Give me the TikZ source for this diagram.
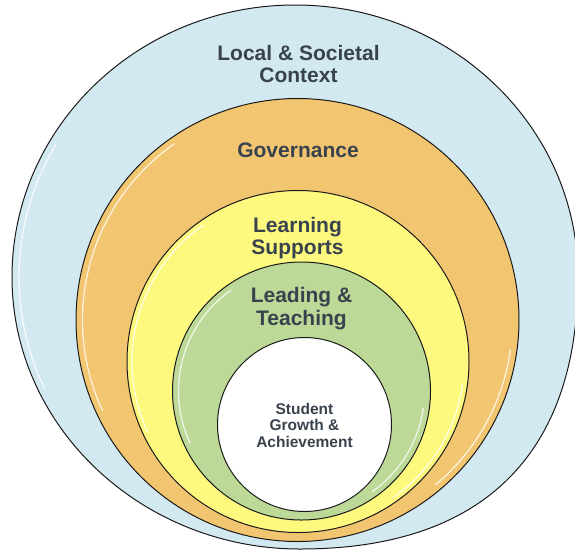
\documentclass[tikz,border=0pt]{standalone}
\usepackage{fontspec}
\setmainfont{Liberation Sans}
\definecolor{ringblue}{HTML}{D3E9F1}
\definecolor{ringorange}{HTML}{F2C570}
\definecolor{ringyellow}{HTML}{FDF97F}
\definecolor{ringgreen}{HTML}{BDD997}
\definecolor{labeltext}{HTML}{39434E}
\definecolor{edge}{HTML}{1A1A1A}
\tikzset{
  ring/.style={circle, draw=edge, line width=1pt, inner sep=0pt, outer sep=0pt},
  lbl/.style={font=\fontsize{21}{22.5}\selectfont\bfseries, text=labeltext, align=center, inner sep=0pt},
  smalllbl/.style={font=\fontsize{15.5}{16.5}\selectfont\bfseries, text=labeltext, align=center, inner sep=0pt},
  hl/.style={white, line width=1.3pt, opacity=0.75, line cap=round}
}
\begin{document}
\begin{tikzpicture}[x=1pt, y=-1pt]
\useasboundingbox (0,0) rectangle (575,552);
% outer context shape
\coordinate (ctx) at (295,277);
\draw[fill=ringblue, draw=edge, line width=1pt]
  (12,277) arc[start angle=180, end angle=0, x radius=283pt, y radius=272pt]
  .. controls (578,447) and (490,549) .. (300,549)
  .. controls (142,549) and (12,427) .. (12,277) -- cycle;
\draw[hl] ([shift={(150:276pt and 265pt)}]ctx) arc[start angle=150, end angle=205, x radius=276pt, y radius=265pt];
% rings
\node[ring, fill=ringorange, minimum size=443pt] (gov) at (297.5,320) {};
\node[ring, fill=ringyellow, minimum size=342pt] (sup) at (298,361.5) {};
\node[ring, fill=ringgreen, minimum size=258pt] (lead) at (301.5,391) {};
\node[ring, fill=white, minimum size=174pt] (stud) at (304.5,424.5) {};
% highlights
\draw[hl] ([shift={(125:215pt)}]gov.center) arc[start angle=125, end angle=205, radius=215pt];
\draw[hl] ([shift={(-8:215pt)}]gov.center) arc[start angle=-8, end angle=-50, radius=215pt];
\draw[hl] ([shift={(125:166pt)}]sup.center) arc[start angle=125, end angle=205, radius=166pt];
\draw[hl] ([shift={(-8:166pt)}]sup.center) arc[start angle=-8, end angle=-55, radius=166pt];
\draw[hl] ([shift={(125:123pt)}]lead.center) arc[start angle=125, end angle=205, radius=123pt];
\draw[hl] ([shift={(-8:123pt)}]lead.center) arc[start angle=-8, end angle=-55, radius=123pt];
% labels
\node[lbl] (tctx) at (298.5,64) {Local \& Societal\\Context};
\node[lbl] (tgov) at (298,150) {Governance};
\node[lbl] (tsup) at (297.5,238) {Learning\\Supports};
\node[lbl] (tlead) at (301.5,308.5) {Leading \&\\Teaching};
\node[smalllbl] (tstud) at (304.5,425) {Student\\Growth \&\\Achievement};
\end{tikzpicture}
\end{document}
